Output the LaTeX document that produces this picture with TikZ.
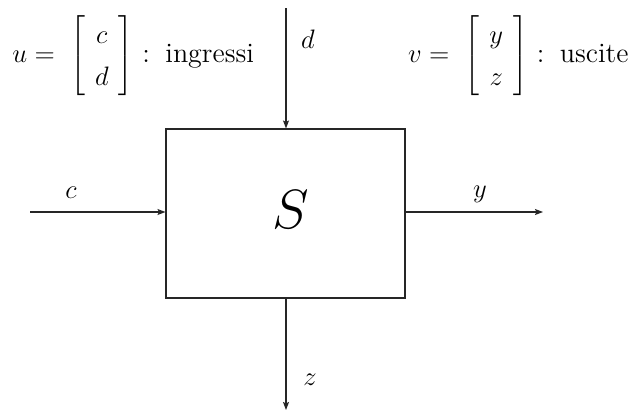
\documentclass[tikz,border=0pt]{standalone}
\usetikzlibrary{arrows.meta}
\newcommand{\colvec}[2]{\renewcommand{\arraystretch}{1.25}\setlength{\arraycolsep}{4.5pt}\mathrel{=}\hspace{3.5pt}\left[\begin{array}{c} #1\\ #2\end{array}\right]}
\begin{document}
\begin{tikzpicture}[x=0.45pt,y=-0.45pt,
  font=\fontsize{12.6}{15}\selectfont,
  sig/.style={draw=black!85,line width=0.5pt,-{Stealth[length=8*0.45pt,width=6*0.45pt,inset=1.5*0.45pt]}},
  lbl/.style={inner sep=0pt},
  txt/.style={inner sep=0pt}]
\useasboundingbox (0,0) rectangle (635,416);
\node[draw=black!85,line width=0.5pt,minimum width=239*0.45pt,minimum height=169*0.45pt,inner sep=0pt] (S) at (285.5,213.5) {};
\node[lbl] (Slbl) at (291,210) {\fontsize{32}{32}\selectfont$S$};
\coordinate (dtop) at (286,8);
\coordinate (cl) at (30,212);
\coordinate (yr) at (543,212);
\coordinate (zb) at (286,410);
\draw[sig] (dtop) -- (S.north -| dtop);
\draw[sig] (cl) -- (S.west |- cl);
\draw[sig] (S.east |- yr) -- (yr);
\draw[sig] (S.south -| zb) -- (zb);
\node[lbl] (dl) at (308,39) {$d$};
\node[lbl] (clb) at (71,193) {$c$};
\node[lbl] (ylb) at (480,194) {$y$};
\node[lbl] (zlb) at (310,380) {$z$};
\node[txt,anchor=west] (u) at (12,56) {$u\colvec{c}{d}$\hspace{4pt}:\hspace{1.5pt} ingressi};
\node[txt,anchor=east] (v) at (629,56) {$v\colvec{y}{z}$\hspace{4pt}:\hspace{1.5pt} uscite};
\end{tikzpicture}
\end{document}
